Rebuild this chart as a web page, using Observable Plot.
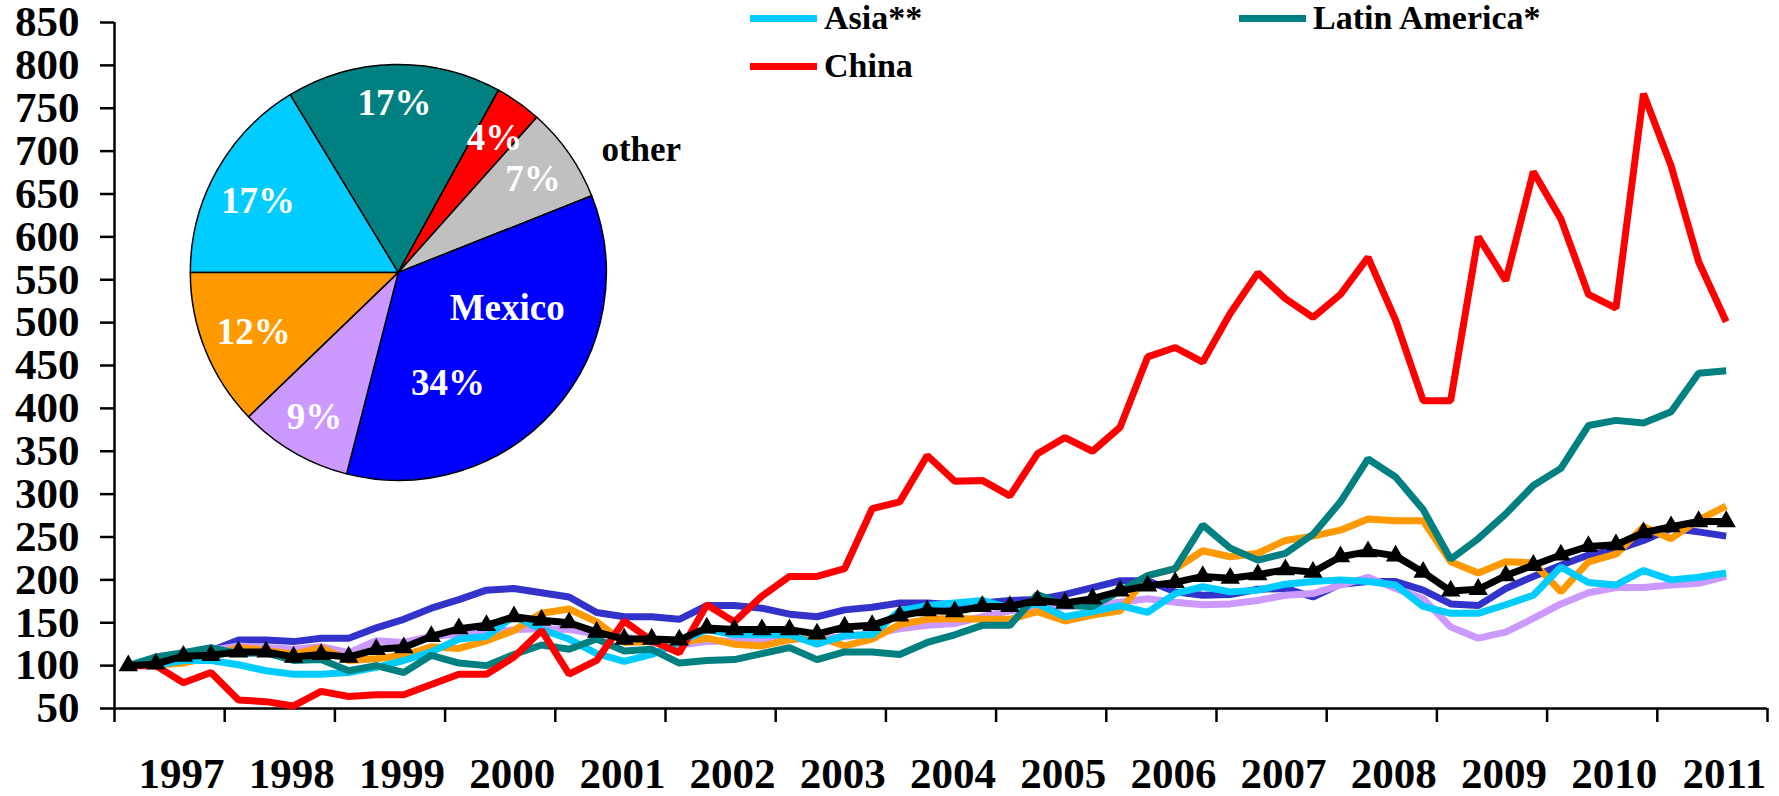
<!DOCTYPE html>
<html><head><meta charset="utf-8">
<script src="https://cdn.jsdelivr.net/npm/d3@7"></script>
<script src="https://cdn.jsdelivr.net/npm/@observablehq/plot@0.6"></script>
<style>
body{margin:0;background:#fff;}
#wrap{position:relative;width:1779px;height:796px;font-family:"Liberation Serif","Times New Roman",serif;}
.leg{position:absolute;height:34px;line-height:34px;display:flex;align-items:center;font-weight:bold;font-size:34px;color:#000;white-space:nowrap;font-family:"Liberation Serif","Times New Roman",serif;}
.leg .sw{display:inline-block;width:67px;height:7px;margin-right:7px;}
</style></head><body><div id="wrap"></div>
<script>
// ---- Data (quarterly index, first quarter 1997 = 100) ----
const yearLabels = d3.range(1997, 2012);          // category axis labels
const yearTicks = d3.range(1997, 2013);           // year boundaries
const yTicks = d3.range(50, 851, 50);
const quarterLabels = d3.range(59).map(i => `${1997 + Math.floor(i / 4)} Q${i % 4 + 1}`);

const china = [100,100,80,92,60,58,53,70,64,66, 66,78,90,90,110,141,90,106,152,129,
  115,171,151,181,204,204,213,283,291,345, 315,316,298,347,366,350,378,460,471,454,
  511,558,528,506,533,576,503,409,409,600, 549,676,621,533,517,767,683,571,501];
const latinAmerica = [100,110,115,121,114,115,106,107,94,100, 92,112,103,100,113,124,119,131,117,119,
  103,106,107,114,121,107,116,116,113,127, 136,147,147,183,170,169,187,205,213,264,
  237,223,231,253,291,341,320,282,224,248, 277,310,330,380,386,383,396,441,444];
const asia = [100,101,106,106,101,94,90,90,92,98, 106,116,131,134,158,142,131,114,105,113,
  127,142,136,136,136,125,135,136,164,170, 173,176,167,172,157,163,170,162,184,192,
  186,188,195,198,200,198,194,169,161,161, 171,182,215,197,194,211,200,203,208];
const orangeSeries = [100,101,103,110,121,118,113,121,106,108, 112,122,120,129,141,161,166,151,127,128,
  127,132,125,123,130,134,123,131,148,154, 155,154,154,163,152,159,164,205,213,234,
  227,231,246,251,258,271,269,269,221,208, 221,220,186,221,230,262,248,270,286];
const lavenderSeries = [100,103,115,118,123,121,119,122,115,129, 127,134,137,138,142,143,142,137,134,127,
  124,128,129,129,131,131,134,137,143,147, 149,157,164,167,169,171,174,178,174,171,
  172,176,182,184,194,203,190,178,145,132, 139,155,172,185,191,191,194,196,204];
const mexico = [100,104,108,117,130,130,128,132,132,144, 154,167,177,188,190,185,180,162,157,157,
  154,170,170,167,160,157,165,168,173,173, 171,173,176,177,183,191,199,199,186,182,
  183,189,190,180,195,198,198,188,172,170, 190,204,217,229,235,246,260,256,251];
const total = [100,102,111,112,116,116,110,113,110,119, 121,134,143,147,157,153,150,139,131,131,
  130,144,142,142,142,137,145,147,158,164, 163,169,169,176,173,178,187,193,197,204,
  202,206,212,209,227,233,228,209,187,189, 205,217,229,239,241,255,262,268,268];

const seriesNames  = ["Mexico", "Series lavender", "Series orange", "Asia**", "Latin America*", "China", "Total"];
const seriesColors = ["#3333CC", "#CC99FF", "#FF9900", "#00CCFF", "#008080", "#FF0000", "#000000"];
const seriesValues = [mexico, lavenderSeries, orangeSeries, asia, latinAmerica, china, total];

// pie inset (shares, clockwise from 9 o'clock)
const pieNames  = ["Asia**", "Latin America*", "China", "other", "Mexico", "lavender", "orange"];
const pieShares = [16.3, 16.7, 3.6, 7.4, 35.0, 8.8, 12.2];
const pieText   = ["17%", "17%", "4%", "7%", "34%", "9%", "12%"];
const pieColors = ["#00CCFF", "#008080", "#FF0000", "#C0C0C0", "#0000FF", "#CC99FF", "#FF9900"];

const legendItems = [
  {name: "Asia**", color: "#00CCFF", left: 750, top: 1},
  {name: "Latin America*", color: "#008080", left: 1239, top: 1},
  {name: "China", color: "#FF0000", left: 750, top: 49}
];

// ---- build ----
function qPos(i) { return 1997 + Math.floor(i / 4) + ((i % 4) + 0.5) / 4; }
const rows = seriesNames.flatMap((s, k) => seriesValues[k].map((v, i) => ({series: s, q: quarterLabels[i], t: qPos(i), v})));
const totalRows = rows.filter(d => d.series === "Total");

const FONT = '"Liberation Serif","Times New Roman",serif';

function pieMark(index, scales, values, dim) {
  let sx = scales.x, sy = scales.y;
  if (typeof sx !== "function") {
    sx = d3.scaleLinear([1997, 2012], [dim.marginLeft, dim.width - dim.marginRight]);
    sy = d3.scaleLinear([50, 850], [dim.height - dim.marginBottom, dim.marginTop]);
  }
  const cx = sx(1999.58), cy = sy(558), R = 208;
  const arcs = d3.pie().sort(null).startAngle(-Math.PI / 2).endAngle(3 * Math.PI / 2)(pieShares);
  const arc = d3.arc().innerRadius(0).outerRadius(R);
  const g = d3.create("svg:g").attr("transform", `translate(${cx},${cy})`);
  g.selectAll("path").data(arcs).join("path")
    .attr("d", arc).attr("fill", (d, i) => pieColors[i])
    .attr("stroke", "#000").attr("stroke-width", 1.5).attr("stroke-linejoin", "round");
  // label placement: slice index, text, angle shift (deg), radius fraction, colour
  const spec = [
    [0, pieText[0], -2, 0.76, "#fff"],
    [1, pieText[1], 0, 0.82, "#fff"],
    [2, pieText[2], 0, 0.80, "#fff"],
    [3, pieText[3], 0, 0.79, "#fff"],
    [4, "Mexico", -23.5, 0.55, "#fff"],
    [4, pieText[4], 24.3, 0.58, "#fff"],
    [5, pieText[5], 0, 0.80, "#fff"],
    [6, pieText[6], 0, 0.75, "#fff"],
    [3, "other", 8, 1.31, "#000"]
  ];
  for (const [k, txt, shift, rf, col] of spec) {
    const a = (arcs[k].startAngle + arcs[k].endAngle) / 2 + shift * Math.PI / 180;
    const r = rf * R;
    g.append("text")
      .attr("x", Math.sin(a) * r).attr("y", -Math.cos(a) * r)
      .attr("text-anchor", "middle").attr("dy", "0.35em")
      .attr("font-family", FONT).attr("font-weight", "bold")
      .attr("font-size", txt === "other" ? 35 : 37)
      .attr("fill", col).text(txt);
  }
  return g.node();
}

const chart = Plot.plot({
  width: 1779, height: 796,
  marginLeft: 114, marginRight: 12, marginTop: 22, marginBottom: 88,
  style: {fontFamily: FONT, fontWeight: "bold", fontSize: "42px", background: "#fff", overflow: "visible", color: "#000"},
  x: {domain: [1997, 2012], axis: null},
  y: {domain: [50, 850], axis: null},
  color: {domain: seriesNames, range: seriesColors},
  marks: [
    Plot.axisY({ticks: yTicks, tickSize: 14, tickPadding: 21, strokeWidth: 2.5, label: null,
      fontSize: 43, fontWeight: "bold", fontFamily: FONT, tickFormat: d => String(d)}),
    Plot.axisX({ticks: yearTicks, tickSize: 14, strokeWidth: 2.5, label: null, tickFormat: () => ""}),
    Plot.text(yearLabels, {x: d => d + 0.5, frameAnchor: "bottom", dy: 66, dx: 12, text: d => String(d),
      fontSize: 43, fontWeight: "bold", fontFamily: FONT, lineAnchor: "middle", fill: "#000"}),
    Plot.ruleY([50], {stroke: "#000", strokeWidth: 2.5}),
    Plot.ruleX([1997], {stroke: "#000", strokeWidth: 2.5}),
    pieMark,
    Plot.line(rows, {x: "t", y: "v", z: "series", stroke: "series", strokeWidth: 7,
      strokeLinejoin: "miter", strokeLinecap: "butt"}),
    Plot.dot(totalRows, {x: "t", y: "v", symbol: "triangle", r: 7.2, fill: "#000", stroke: "none"})
  ]
});

const wrap = document.getElementById("wrap");
wrap.appendChild(chart);
for (const it of legendItems) {
  const d = document.createElement("div");
  d.className = "leg";
  d.style.left = it.left + "px";
  d.style.top = it.top + "px";
  const sw = document.createElement("span");
  sw.className = "sw"; sw.style.background = it.color;
  d.appendChild(sw);
  d.appendChild(document.createTextNode(it.name));
  wrap.appendChild(d);
}
</script></body></html>
